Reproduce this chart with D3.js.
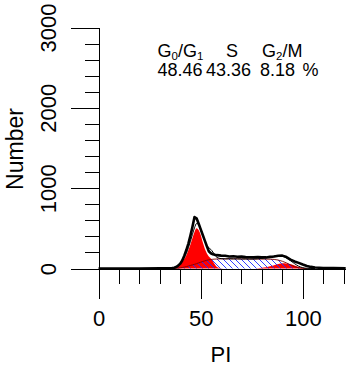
<!DOCTYPE html>
<html>
<head>
<meta charset="utf-8">
<script src="https://cdn.jsdelivr.net/npm/d3@7"></script>
<style>
  html, body { margin: 0; padding: 0; background: #fff; }
  svg { display: block; font-family: "Liberation Sans", Arial, sans-serif; }
</style>
</head>
<body>
<svg id="chart" width="346" height="368"></svg>
<script>
// PI channel positions (bin centres) shared by every series below
const piBins = [0,10,20,30,32,34,36,37,38,39,40,41,42,43,44,45,46,47,48,49,50,51,52,53,54,55,56,57,58,
  60,62,64,66,68,70,72,74,76,78,80,82,84,86,88,90,92,94,96,98,100,102,104,106,108,110,115,121];

// measured DNA histogram (cell counts per bin)
const histogramCounts = [0,0,0,2,3,4,6,10,18,35,60,100,160,230,310,410,520,640,625,560,490,420,350,280,215,190,178,170,166,
  160,158,150,152,146,148,142,140,138,142,140,138,145,150,158,160,142,110,88,70,50,32,20,12,9,7,5,4];

// fitted model components
const g1Counts = [0,0,0,0,0,0,0,5,15,32,60,85,120,165,230,300,380,455,500,480,420,330,250,190,150,125,90,50,20,
  3,0,0,0,0,0,0,0,0,0,0,0,0,0,0,0,0,0,0,0,0,0,0,0,0,0,0,0];
const sPhaseCounts = [0,0,0,0,0,0,0,1,3,5,8,12,18,24,30,38,45,52,60,70,78,87,95,102,108,112,115,117,118,
  120,120,121,120,120,119,119,118,118,118,117,117,116,113,105,90,70,45,22,8,2,0,0,0,0,0,0,0];
const g2Counts = [0,0,0,0,0,0,0,0,0,0,0,0,0,0,0,0,0,0,0,0,0,0,0,0,0,0,0,0,0,
  0,0,0,0,0,0,0,0,0,3,8,16,28,42,56,64,62,52,38,20,8,2,0,0,0,0,0,0];

// cell-cycle phase results
const phaseNames = [["G", "0", "/G", "1"], ["S"], ["G", "2", "/M"]];
const phasePercents = [48.46, 43.36, 8.18];

// axis ticks
const xMajorTicks = [0, 50, 100];
const xMinorTicks = [10, 20, 30, 40, 60, 70, 80, 90, 110, 120];
const yMajorTicks = [0, 1000, 2000, 3000];
const yMinorTicks = [200, 400, 600, 800, 1200, 1400, 1600, 1800, 2200, 2400, 2600, 2800];

const svg = d3.select("#chart");

const x = d3.scaleLinear().domain([0, 121.5]).range([98.5, 346.7]);
const y = d3.scaleLinear().domain([0, 3000]).range([268.5, 27.5]);

const rows = piBins.map((pi, i) => ({
  pi,
  hist: histogramCounts[i],
  g1: g1Counts[i],
  s: sPhaseCounts[i],
  g2: g2Counts[i]
}));

// diagonal hatch for the S-phase component
const defs = svg.append("defs");
const hatch = defs.append("pattern")
  .attr("id", "sHatch")
  .attr("patternUnits", "userSpaceOnUse")
  .attr("width", 6).attr("height", 6);
hatch.append("path")
  .attr("d", "M-1,-1L7,7M-1,5L1,7M5,-1L7,1")
  .attr("stroke", "#1f2bff")
  .attr("stroke-width", 0.9)
  .attr("fill", "none");

const smooth = d3.curveMonotoneX;
const areaOf = key => d3.area().x(d => x(d.pi)).y0(y(0)).y1(d => y(d[key])).curve(smooth);
const lineOf = acc => d3.line().x(d => x(d.pi)).y(d => y(acc(d))).curve(smooth);

// G0/G1 and G2/M peaks in solid red
svg.append("path").datum(rows).attr("d", areaOf("g1")).attr("fill", "#ff0000");
svg.append("path").datum(rows).attr("d", areaOf("g2")).attr("fill", "#ff0000");

// S phase, hatched
svg.append("path").datum(rows).attr("d", areaOf("s")).attr("fill", "url(#sHatch)");
svg.append("path").datum(rows.filter(d => d.pi >= 36 && d.pi <= 102))
  .attr("d", lineOf(d => d.s))
  .attr("fill", "none").attr("stroke", "#7a0000").attr("stroke-width", 0.9);

// summed model fit
svg.append("path").datum(rows.filter(d => d.pi >= 34 && d.pi <= 106))
  .attr("d", lineOf(d => d.g1 + d.s + d.g2))
  .attr("fill", "none").attr("stroke", "#000").attr("stroke-width", 1);

// measured histogram
svg.append("path").datum(rows)
  .attr("d", d3.line().x(d => x(d.pi)).y(d => y(d.hist)))
  .attr("fill", "none").attr("stroke", "#000")
  .attr("stroke-width", 2.6).attr("stroke-linejoin", "round");

// axes
const axisStyle = g => {
  g.selectAll("path, line").attr("stroke", "#000").attr("shape-rendering", "crispEdges");
  g.selectAll("text").attr("fill", "#000").attr("font-size", 22)
    .attr("font-family", "'Liberation Sans', Arial, sans-serif");
};

svg.append("g").attr("transform", `translate(0,${y(0)})`)
  .call(d3.axisBottom(x).tickValues(xMinorTicks).tickSize(15).tickSizeOuter(0).tickFormat(""))
  .call(g => g.select(".domain").remove())
  .call(axisStyle);

svg.append("g").attr("transform", `translate(0,${y(0)})`)
  .call(d3.axisBottom(x).tickValues(xMajorTicks).tickSize(30).tickSizeOuter(0).tickPadding(12))
  .call(axisStyle);

svg.append("g").attr("transform", `translate(${x(0)},0)`)
  .call(d3.axisLeft(y).tickValues(yMinorTicks).tickSize(14).tickSizeOuter(0).tickFormat(""))
  .call(g => g.select(".domain").remove())
  .call(axisStyle);

svg.append("g").attr("transform", `translate(${x(0)},0)`)
  .call(d3.axisLeft(y).tickValues(yMajorTicks).tickSize(28).tickSizeOuter(0).tickFormat(d3.format("d")))
  .call(axisStyle)
  .call(g => g.selectAll(".tick text")
    .attr("x", null).attr("dy", null)
    .attr("text-anchor", "middle")
    .attr("transform", "translate(-42.5,0) rotate(-90)"));

// axis titles
svg.append("text").attr("x", 221).attr("y", 362)
  .attr("text-anchor", "middle").attr("font-size", 22).text("PI");
svg.append("text").attr("transform", "translate(22.5,149) rotate(-90)")
  .attr("text-anchor", "middle").attr("font-size", 23).text("Number");

// phase summary
const nameX = [157.5, 226, 262];
const pctX = [157.5, 206, 260];
phaseNames.forEach((parts, i) => {
  const t = svg.append("text").attr("x", nameX[i]).attr("y", 56.5).attr("font-size", 18);
  parts.forEach((p, j) => {
    const isSub = /^[0-9]$/.test(p);
    t.append("tspan")
      .attr("font-size", isSub ? 11.5 : 18)
      .attr("dy", isSub ? 3 : (j > 0 ? -3 : 0))
      .text(p);
  });
});
const fmt = d3.format(".2f");
phasePercents.forEach((v, i) => {
  svg.append("text").attr("x", pctX[i]).attr("y", 76).attr("font-size", 18).text(fmt(v));
});
svg.append("text").attr("x", 302.5).attr("y", 76).attr("font-size", 18).text("%");
</script>
</body>
</html>
